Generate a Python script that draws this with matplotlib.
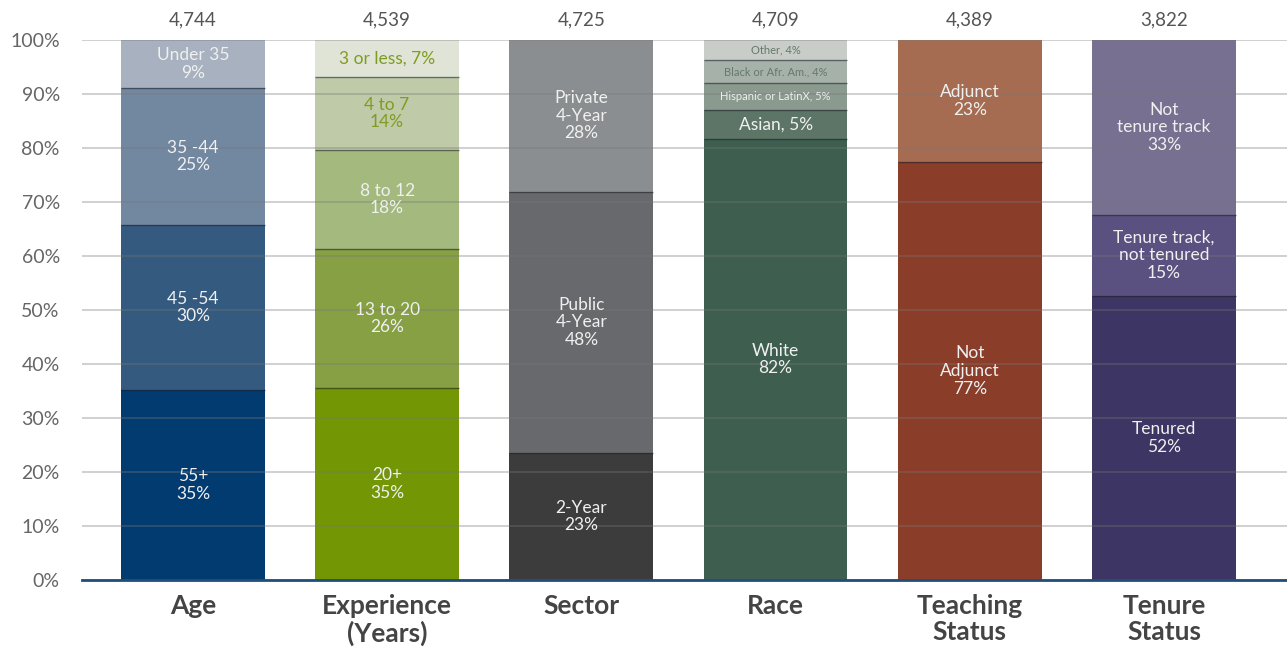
import matplotlib.pyplot as plt

plt.rcParams['font.family'] = ['Lato', 'DejaVu Sans']

# Categories and sample sizes
categories = ["Age", "Experience\n(Years)", "Sector", "Race", "Teaching\nStatus", "Tenure\nStatus"]
counts = ["4,744", "4,539", "4,725", "4,709", "4,389", "3,822"]

# Segment shares (bottom to top)
age_vals = [35.2, 30.5, 25.4, 8.9]
age_labels = ["55+\n35%", "45 -54\n30%", "35 -44\n25%", "Under 35\n9%"]
age_colors = ["#023b6f", "#355a80", "#7287a0", "#a7b1bf"]

exp_vals = [35.5, 25.8, 18.3, 13.5, 6.9]
exp_labels = ["20+\n35%", "13 to 20\n26%", "8 to 12\n18%", "4 to 7\n14%", "3 or less, 7%"]
exp_colors = ["#739605", "#86a043", "#a3b97d", "#bfcaa9", "#dfe4d6"]

sector_vals = [23.5, 48.4, 28.1]
sector_labels = ["2-Year\n23%", "Public\n4-Year\n48%", "Private\n4-Year\n28%"]
sector_colors = ["#3c3c3d", "#68696c", "#8b8e90"]

race_vals = [81.7, 5.3, 5.0, 4.3, 3.7]
race_labels = ["White\n82%", "Asian, 5%", "Hispanic or LatinX, 5%", "Black or Afr. Am., 4%", "Other, 4%"]
race_colors = ["#3e5e50", "#5c7566", "#8a9a8f", "#a6b1aa", "#c8cdc8"]

teach_vals = [77.4, 22.6]
teach_labels = ["Not\nAdjunct\n77%", "Adjunct\n23%"]
teach_colors = ["#8a3e2a", "#a66c51"]

tenure_vals = [52.6, 15.0, 32.4]
tenure_labels = ["Tenured\n52%", "Tenure track,\nnot tenured\n15%", "Not\ntenure track\n33%"]
tenure_colors = ["#3d3563", "#5a5180", "#787090"]

groups = [
    (age_vals, age_labels, age_colors, ["#f0f0f0"] * 4, [12.5] * 4),
    (exp_vals, exp_labels, exp_colors, ["#f0f0f0", "#f0f0f0", "#f0f0f0", "#7f9c22", "#7f9c22"], [12.5] * 5),
    (sector_vals, sector_labels, sector_colors, ["#f0f0f0"] * 3, [12.5] * 3),
    (race_vals, race_labels, race_colors, ["#f0f0f0", "#f0f0f0", "#eeeeee", "#66786c", "#66786c"],
     [12.5, 12.5, 8, 8, 8]),
    (teach_vals, teach_labels, teach_colors, ["#f0f0f0"] * 2, [12.5] * 2),
    (tenure_vals, tenure_labels, tenure_colors, ["#f0f0f0"] * 3, [12.5] * 3),
]

bar_w = 0.74

fig = plt.figure(figsize=(12.87, 6.5), dpi=100)
ax = fig.add_axes([0.0637, 0.1077, 0.9363, 0.8308])

for i, (vals, labels, colors, tcolors, sizes) in enumerate(groups):
    bottom = 0
    for k, (v, lab, c, tc, fs) in enumerate(zip(vals, labels, colors, tcolors, sizes)):
        ax.bar(i, v, bottom=bottom, width=bar_w, color=c, linewidth=0, zorder=1)
        if k > 0:
            # thin dark separator between segments
            ax.hlines(bottom, i - bar_w / 2, i + bar_w / 2, color="#1e1e28", alpha=0.55,
                      linewidth=1.0, zorder=1.5)
        ax.text(i, bottom + v / 2, lab, ha="center", va="center", color=tc, fontsize=fs,
                linespacing=1.12, zorder=3)
        bottom += v
    # sample size above each bar
    ax.text(i, 103.7, counts[i], ha="center", va="center", fontsize=13.5, color="#555555")
    # category label below each bar
    ax.text(i, -2.6, categories[i], ha="center", va="top", fontsize=19, color="#444444",
            fontweight="bold", linespacing=1.12)

ax.set_xlim(-0.571, 5.633)
ax.set_ylim(0, 100)
ax.set_yticks(range(0, 101, 10))
ax.set_yticklabels([f"{t}%" for t in range(0, 101, 10)], fontsize=14, color="#666666")
ax.set_xticks([])
ax.tick_params(axis="y", length=0, pad=16)
ax.yaxis.grid(True, color="#777777", alpha=0.4, linewidth=1.2, zorder=2)
ax.set_axisbelow(False)
for s in ["top", "right", "left"]:
    ax.spines[s].set_visible(False)
ax.spines["bottom"].set_color("#1f4e79")
ax.spines["bottom"].set_linewidth(2)
ax.spines["bottom"].set_zorder(4)

plt.savefig("out.png", dpi=100)
